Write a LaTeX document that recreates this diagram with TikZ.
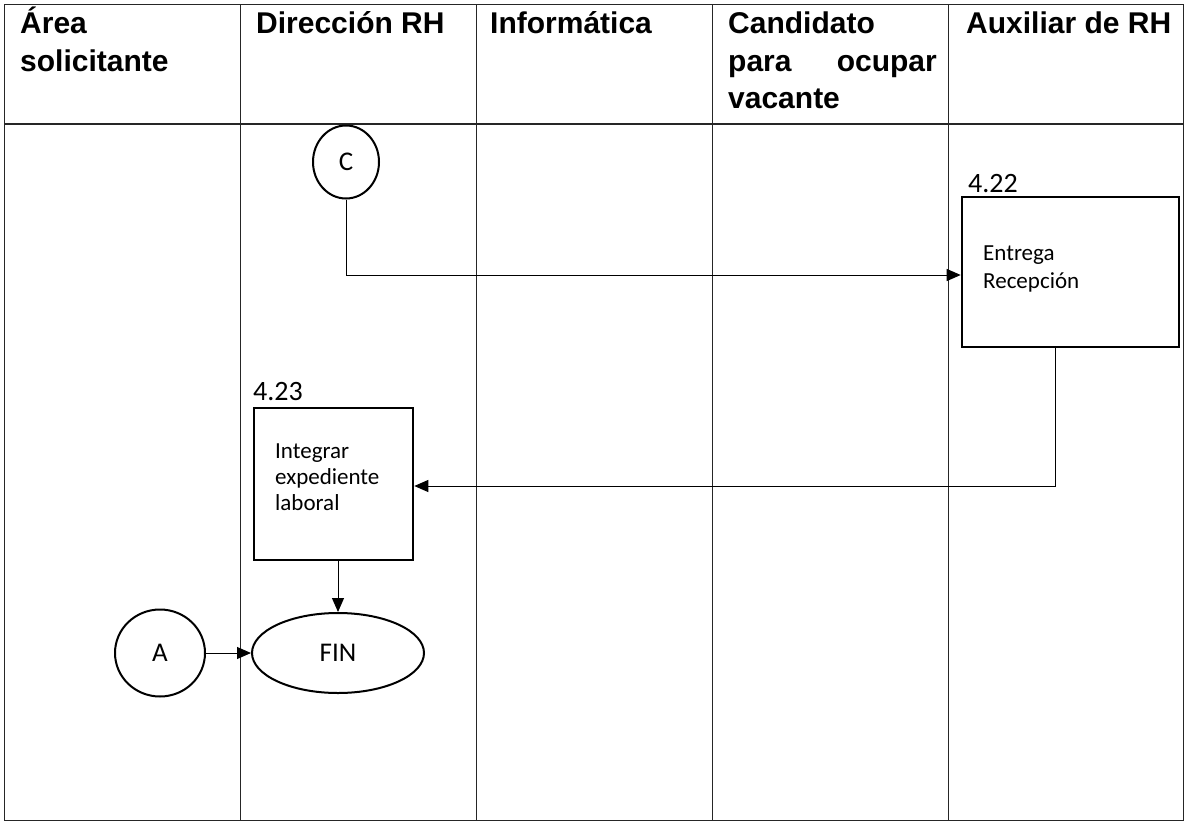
\documentclass[tikz,border=0pt]{standalone}
\usepackage{fontspec}
\setmainfont{Carlito}
\newfontfamily\hdrfont{Liberation Sans}
\usetikzlibrary{arrows.meta,shapes.geometric}
\begin{document}
\begin{tikzpicture}[x=1pt,y=-1pt,
  grid/.style={line width=1pt, draw=black!85},
  hdr/.style={font=\hdrfont\bfseries\fontsize{30}{37}\selectfont, inner sep=0pt, anchor=base west},
  stepbox/.style={draw, rectangle, line width=2.6pt, inner sep=0pt},
  btext/.style={font=\fontsize{23}{27}\selectfont, inner sep=0pt, anchor=base west},
  num/.style={font=\fontsize{28}{30}\selectfont, inner sep=0pt, anchor=base west},
  term/.style={ellipse, draw, line width=2pt, inner sep=0pt, font=\fontsize{27}{30}\selectfont},
  conn/.style={draw, line width=1pt, -{Triangle[length=14pt,width=12pt]}},
]
\fill[white] (0,0) rectangle (1186,822);
\useasboundingbox (0,0) rectangle (1186,822);
% table
\draw[grid] (4,4) rectangle (1183,820);
\draw[grid, line width=1.4pt] (4,124) -- (1183,124);
\foreach \cx in {240,476,712,948} \draw[grid] (\cx,4) -- (\cx,820);
% headers
\node[hdr] (h1a) at (20,33) {Área};
\node[hdr] (h1b) at (20,71) {solicitante};
\node[hdr] (h2) at (256,33) {Dirección RH};
\node[hdr] (h3) at (490,33) {Informática};
\node[hdr] (h4a) at (728,33) {Candidato};
\node[hdr] (h4b) at (728,71) {para};
\node[hdr, anchor=base east] (h4c) at (937,71) {ocupar};
\node[hdr] (h4d) at (728,108) {vacante};
\node[hdr] (h5) at (966,33) {Auxiliar de RH};
% shapes
\node[term, minimum width=66pt, minimum height=73pt] (C) at (346,162) {C};
\node[stepbox, minimum width=217pt, minimum height=150pt] (b422) at (1070.5,272) {};
\node[num] (n422) at (968,192) {4.22};
\node[btext] (t422a) at (983,260) {Entrega};
\node[btext] (t422b) at (983,288) {Recepción};
\node[stepbox, minimum width=159pt, minimum height=152pt] (b423) at (333.5,484) {};
\node[num] (n423) at (253,400) {4.23};
\node[btext] (t423a) at (275,458) {Integrar};
\node[btext] (t423b) at (275,484) {expediente};
\node[btext] (t423c) at (275,510) {laboral};
\node[term, minimum width=172pt, minimum height=80pt] (FIN) at (338,653) {FIN};
\node[term, minimum width=90pt, minimum height=87pt] (A) at (160,653) {A};
% connectors
\draw[conn] (C.south) |- ([yshift=-3pt]b422.west);
\draw[conn] ([xshift=-15pt]b422.south) |- ([yshift=-2pt]b423.east);
\draw[conn] (FIN.north |- b423.south) -- (FIN.north);
\draw[conn] (A.east) -- (FIN.west);
\end{tikzpicture}
\end{document}
